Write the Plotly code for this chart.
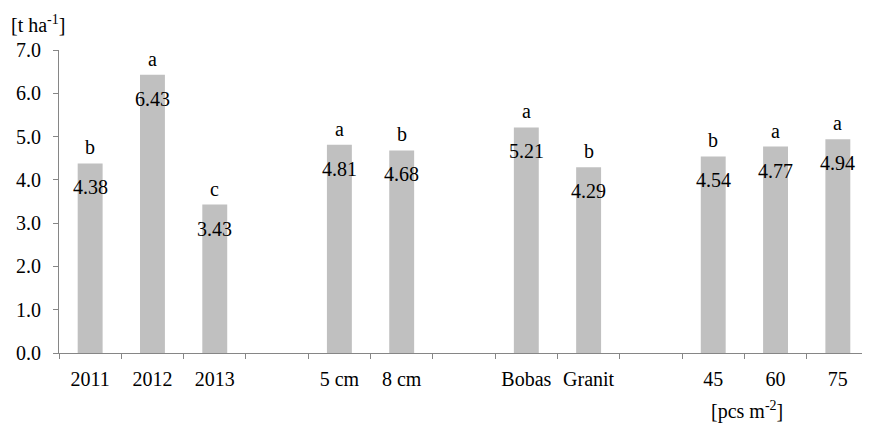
import plotly.graph_objects as go

# ---- data ----
categories = ["2011", "2012", "2013", "5 cm", "8 cm", "Bobas", "Granit", "45", "60", "75"]
yields = [4.38, 6.43, 3.43, 4.81, 4.68, 5.21, 4.29, 4.54, 4.77, 4.94]
letters = ["b", "a", "c", "a", "b", "a", "b", "b", "a", "a"]
axis_order = ["2011", "2012", "2013", " ", "5 cm", "8 cm", "  ",
              "Bobas", "Granit", "   ", "45", "60", "75"]
y_unit = "[t ha<sup>-1</sup>]"
x_unit = "[pcs m<sup>-2</sup>]"

# page body has an 8px margin, so the figure is offset by 8px
OFF = 8
W, H = 870 - OFF, 424 - OFF
ML, MR, MT, MB = 59 - OFF, 1, 50 - OFF, 71
PW, PH = W - ML - MR, H - MT - MB

def px_x(p):
    return (p - OFF - ML) / PW

def px_y(p):
    return 1 - (p - OFF - MT) / PH

FONT = "Liberation Serif"
TXT = dict(family=FONT, size=20, color="black")
AX = "#868686"
BAR = "#C0C0C0"

pos = [axis_order.index(c) for c in categories]

fig = go.Figure()
fig.add_trace(go.Bar(
    x=categories, y=yields, width=0.4,
    marker=dict(color=BAR, line=dict(width=0)),
    hoverinfo="x+y",
))

for p, v, l in zip(pos, yields, letters):
    fig.add_annotation(x=p, y=v, xref="x", yref="y", text=f"{v:.2f}",
                       showarrow=False, yanchor="top", yshift=-11, font=TXT)
    fig.add_annotation(x=p, y=v, xref="x", yref="y", text=l,
                       showarrow=False, yanchor="bottom", yshift=3, font=TXT)

fig.add_annotation(xref="paper", yref="paper", x=px_x(9), y=px_y(10),
                   xanchor="left", yanchor="top", text=y_unit, showarrow=False,
                   font=TXT)
fig.add_annotation(xref="paper", yref="paper", x=px_x(747), y=px_y(396),
                   xanchor="center", yanchor="top", text=x_unit, showarrow=False,
                   font=TXT)

fig.update_layout(
    width=W, height=H,
    margin=dict(l=ML, r=MR, t=MT, b=MB, pad=0),
    plot_bgcolor="white", paper_bgcolor="white",
    showlegend=False,
    xaxis=dict(
        type="category", categoryorder="array", categoryarray=axis_order,
        range=[-0.5, len(axis_order) - 0.5],
        showline=True, linecolor=AX, linewidth=1,
        ticks="outside", tickson="boundaries", ticklen=5, tickcolor=AX,
        ticklabelstandoff=8,
        showgrid=False, zeroline=False, fixedrange=True,
        tickfont=TXT,
    ),
    yaxis=dict(
        range=[0, 7], dtick=1, tickformat=".1f",
        showline=True, linecolor=AX, linewidth=1,
        ticks="outside", ticklen=5, tickcolor=AX,
        ticklabelstandoff=8,
        showgrid=False, zeroline=False, fixedrange=True,
        tickfont=TXT,
    ),
)

fig.write_html("out.html")
